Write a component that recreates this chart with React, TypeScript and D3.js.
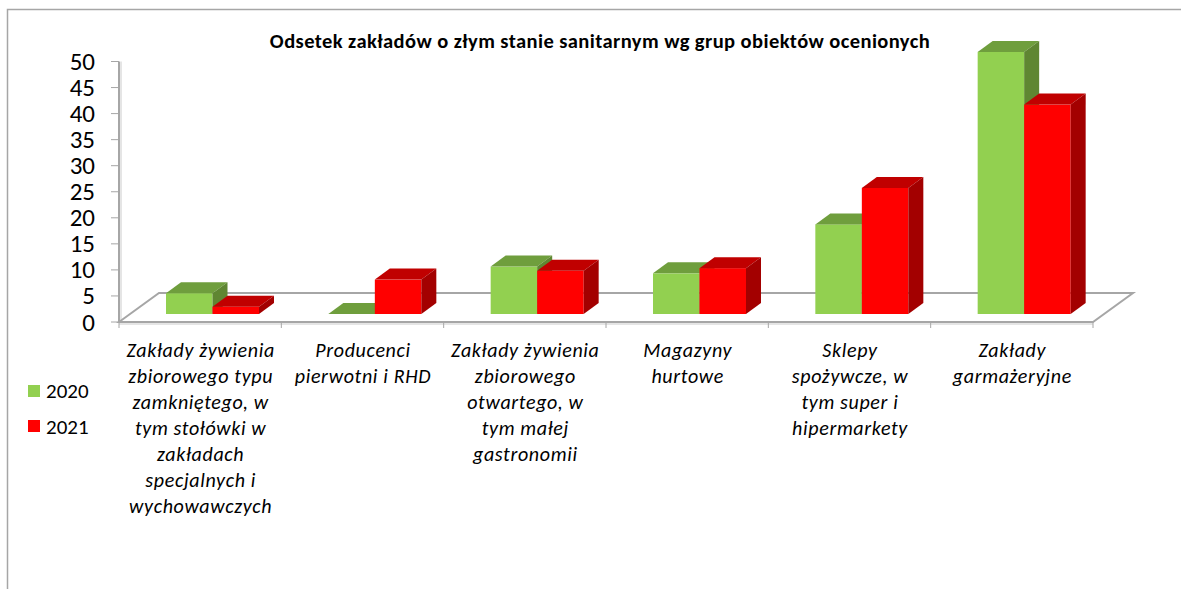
import React from 'react'
import * as d3 from 'd3'

const categories = [
  ['Zakłady żywienia', 'zbiorowego typu', 'zamkniętego, w', 'tym stołówki w', 'zakładach', 'specjalnych i', 'wychowawczych'],
  ['Producenci', 'pierwotni i RHD'],
  ['Zakłady żywienia', 'zbiorowego', 'otwartego, w', 'tym małej', 'gastronomii'],
  ['Magazyny', 'hurtowe'],
  ['Sklepy', 'spożywcze, w', 'tym super i', 'hipermarkety'],
  ['Zakłady', 'garmażeryjne'],
]
const values2020 = [4, 0, 9.1, 7.8, 17.2, 50.3]
const values2021 = [1.4, 6.6, 8.3, 8.8, 24.2, 40.2]
const yTicks = d3.range(0, 51, 5)
const seriesNames = ['2020', '2021']

const FONT = "Carlito, 'Open Sans', 'Noto Sans', sans-serif"

const left = 119
const right = 1093
const floorY = 322
const topY = 61.5
const floorDx = 40
const floorDy = -29
const baseY = 314
const sideDx = 15
const sideDy = -11

const x = d3.scaleBand<number>().domain(d3.range(6)).range([left, right])
const y = d3.scaleLinear().domain([0, 50]).range([floorY, topY])
const unit = floorY - y(1)

const poly = (pts: number[][]) => pts.map(p => p.join(',')).join(' ')

const Bar = ({x0, w, value, front, top, side}: any) => {
  const yt = baseY - value * unit
  const x1 = x0 + w
  return (
    <g>
      {value > 0 && <rect x={x0} y={yt} width={w} height={baseY - yt} fill={front} />}
      <polygon points={poly([[x0, yt], [x1, yt], [x1 + sideDx, yt + sideDy], [x0 + sideDx, yt + sideDy]])} fill={top} />
      {value > 0 && <polygon points={poly([[x1, yt], [x1 + sideDx, yt + sideDy], [x1 + sideDx, baseY + sideDy], [x1, baseY]])} fill={side} />}
    </g>
  )
}

export default function App() {
  const step = x.step()
  const barW = 46.5
  return (
    <svg width={1181} height={589} style={{position: 'absolute', left: 0, top: 0, display: 'block'}} fontFamily={FONT}>
      <path d="M7.5 589V9.5H1181" fill="none" stroke="#a6a6a6" strokeWidth={1.5} />
      <text x={600} y={47.5} textAnchor="middle" fontSize={20.5} fontWeight="bold" letterSpacing={0.42} fill="#000">Odsetek zakładów o złym stanie sanitarnym wg grup obiektów ocenionych</text>

      {/* floor and axes */}
      <line x1={left} x2={right} y1={floorY + 2} y2={floorY + 2} stroke="#dcdcdc" strokeWidth={1.5} />
      <line x1={left + 2} x2={left + 2} y1={topY} y2={floorY - 2} stroke="#dcdcdc" strokeWidth={1.5} />
      <polygon points={poly([[left, floorY], [left + floorDx, floorY + floorDy], [right + floorDx, floorY + floorDy], [right, floorY]])} fill="#fff" stroke="#a6a6a6" strokeWidth={2} />
      <line x1={left} x2={left} y1={topY} y2={floorY} stroke="#a6a6a6" strokeWidth={2} />
      {yTicks.map(t => (
        <g key={t}>
          <line x1={left - 8} x2={left} y1={y(t)} y2={y(t)} stroke="#a6a6a6" />
          <text x={95} y={y(t) + 8.5} textAnchor="end" fontSize={25} fill="#000">{t}</text>
        </g>
      ))}
      {d3.range(7).map(i => {
        const tx = left + i * step
        return <line key={i} x1={tx} x2={tx} y1={floorY} y2={floorY + 6} stroke="#a6a6a6" />
      })}

      {/* bars */}
      {categories.map((_, i) => {
        const x0 = (x(i) as number) + 47
        return (
          <g key={i}>
            <Bar x0={x0} w={barW} value={values2020[i]} front="#92d050" top="#6f9e3d" side="#5f8632" />
            <Bar x0={x0 + barW} w={barW} value={values2021[i]} front="#ff0000" top="#c00000" side="#a30000" />
          </g>
        )
      })}

      {/* category labels */}
      {categories.map((lines, i) => (
        <text key={i} textAnchor="middle" fontSize={20} letterSpacing={0.65} fontStyle="italic" fill="#000">
          {lines.map((l, j) => (
            <tspan key={j} x={(x(i) as number) + step / 2 + 0.5} y={357 + j * 26}>{l}</tspan>
          ))}
        </text>
      ))}

      {/* legend */}
      {seriesNames.map((s, i) => (
        <g key={s}>
          <rect x={28} y={385 + i * 35} width={12} height={12} fill={i === 0 ? '#92d050' : '#ff0000'} />
          <text x={46} y={398 + i * 36} fontSize={21} fill="#000">{s}</text>
        </g>
      ))}
    </svg>
  )
}
